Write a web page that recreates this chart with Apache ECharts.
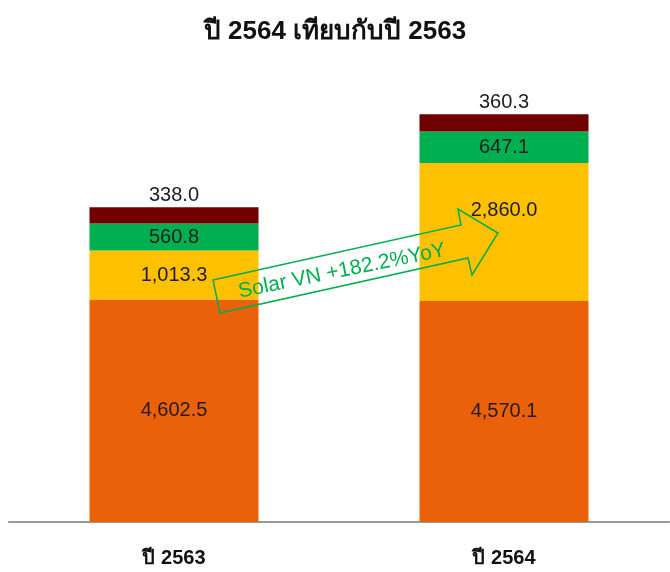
<!DOCTYPE html>
<html>
<head>
<meta charset="utf-8">
<script src="https://cdn.jsdelivr.net/npm/echarts@6/dist/echarts.min.js"></script>
<style>
  html, body { margin: 0; padding: 0; background: #fff; }
  #chart { width: 670px; height: 572px; }
</style>
</head>
<body>
<div id="chart"></div>
<script>
// data
const years = ['ปี 2563', 'ปี 2564']
const part1 = [4602.5, 4570.1]
const part2 = [1013.3, 2860.0]
const part3 = [560.8, 647.1]
const part4 = [338.0, 360.3]

const fontFam = 'Arial, "Liberation Sans", "Noto Sans", sans-serif'
const fmt = v => v.toLocaleString('en-US', { minimumFractionDigits: 1, maximumFractionDigits: 1 })

function seg (name, values, color, labelPos) {
  return {
    name: name,
    type: 'bar',
    stack: 'total',
    barWidth: 169,
    data: values,
    itemStyle: { color: color },
    label: {
      show: true,
      position: labelPos,
      distance: 2,
      color: '#1e1e1e',
      fontSize: 20,
      fontFamily: fontFam,
      formatter: p => fmt(p.value)
    }
  }
}

const s2 = seg('b', part2, '#FFC000', 'inside')
s2.data = part2.map((v, i) => i === 1 ? { value: v, label: { offset: [0, -22] } } : v)

const chart = echarts.init(document.getElementById('chart'))
chart.setOption({
  animation: false,
  title: {
    text: 'ปี 2564 เทียบกับปี 2563',
    left: 'center',
    top: 14,
    textStyle: { fontSize: 26, fontWeight: 'bold', color: '#111', fontFamily: fontFam }
  },
  grid: { left: 9, right: 1, top: 87, bottom: 50 },
  xAxis: {
    type: 'category',
    data: years,
    axisLine: { lineStyle: { color: '#9a9a9a', width: 2 } },
    axisTick: { show: false },
    axisLabel: { margin: 26, fontSize: 20, fontWeight: 'bold', color: '#111', fontFamily: fontFam }
  },
  yAxis: {
    type: 'value',
    min: 0,
    max: 9000,
    show: false,
    splitLine: { show: false }
  },
  series: [
    seg('a', part1, '#EA610A', 'inside'),
    s2,
    seg('c', part3, '#00B050', 'inside'),
    seg('d', part4, '#700000', 'top')
  ],
  graphic: [
    {
      type: 'polygon',
      shape: {
        points: [[213, 280], [461, 225], [458, 209], [498, 233], [472, 275], [468, 258], [220, 313]]
      },
      style: { fill: 'none', stroke: '#00B050', lineWidth: 1.5 },
      z: 100
    },
    {
      type: 'text',
      x: 342,
      y: 271,
      rotation: 11.5 * Math.PI / 180,
      style: {
        text: 'Solar VN +182.2%YoY',
        fill: '#00B050',
        fontSize: 21,
        fontFamily: fontFam,
        align: 'center',
        verticalAlign: 'middle'
      },
      z: 100
    }
  ]
})
</script>
</body>
</html>
